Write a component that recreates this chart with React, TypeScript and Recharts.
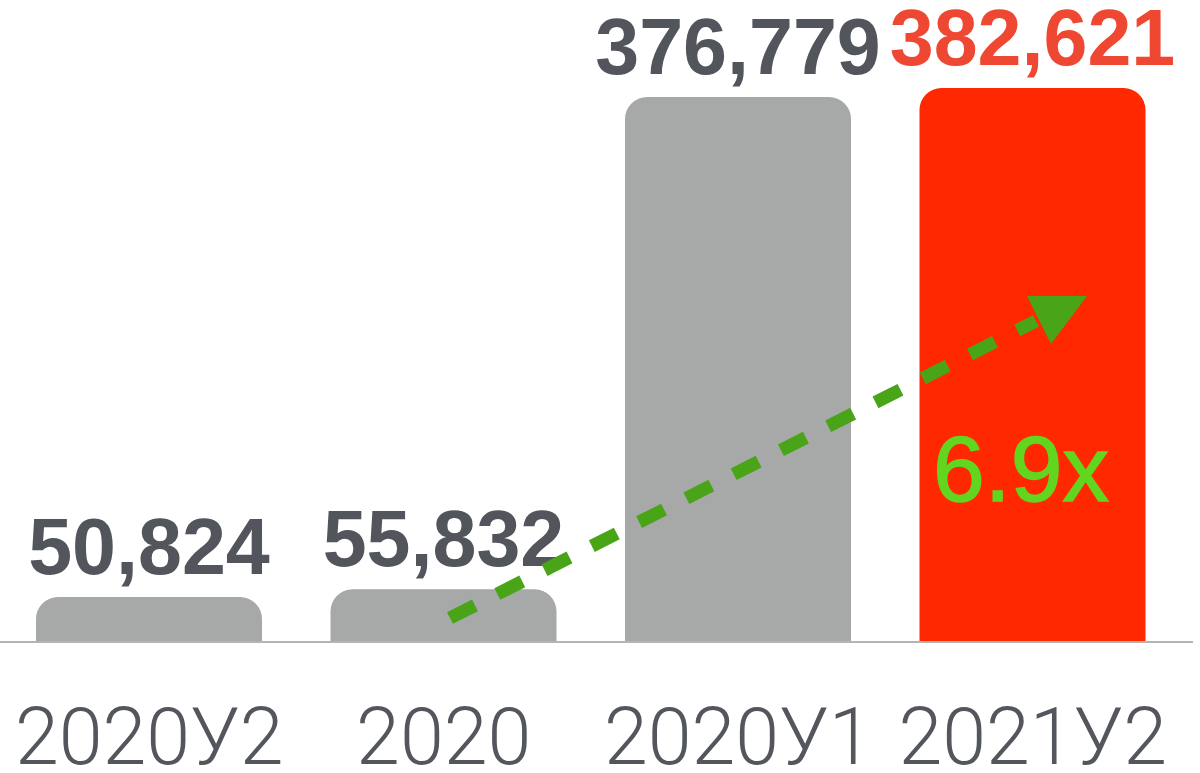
import { BarChart, Bar, XAxis, YAxis, Cell, LabelList } from "recharts"

const categories = ["2020У2", "2020", "2020У1", "2021У2"]
const values = [50824, 55832, 376779, 382621]
const barColors = ["#a6a9a8", "#a6a9a8", "#a6a9a8", "#ff2800"]
const labelColors = ["#52565c", "#52565c", "#52565c", "#ee4832"]
const growthLabel = "6.9x"

const data = categories.map((name, i) => ({ name, value: values[i] }))

const ValueLabel = (props: any) => {
  const { x, y, width, value, index } = props
  return (
    <text
      x={x + width / 2}
      y={y - 23}
      textAnchor="middle"
      fill={labelColors[index]}
      fontFamily="'Liberation Sans', Arial, sans-serif"
      fontWeight={700}
      fontSize={79}
    >
      {Number(value).toLocaleString("en-US")}
    </text>
  )
}

const CategoryTick = (props: any) => {
  const { x, y, payload } = props
  return (
    <text
      x={x}
      y={y}
      dy={122}
      textAnchor="middle"
      fill="#53575d"
      fontFamily="Roboto, 'Liberation Sans', sans-serif"
      fontWeight={300}
      fontSize={79}
    >
      {payload.value}
    </text>
  )
}

export default function App() {
  return (
    <div
      style={{
        position: "absolute",
        left: 0,
        top: 0,
        width: 1200,
        height: 773,
        background: "#ffffff",
      }}
    >
      <BarChart
        width={1200}
        height={773}
        data={data}
        margin={{ top: 88, right: 7, left: 0, bottom: 31 }}
      >
        <XAxis
          dataKey="name"
          height={100}
          padding={{ left: 2, right: 13 }}
          tickLine={false}
          tickSize={0}
          tickMargin={0}
          axisLine={{ stroke: "#b4b4b4", strokeWidth: 2 }}
          tick={<CategoryTick />}
          interval={0}
        />
        <YAxis hide domain={[21490, 382621]} allowDataOverflow />
        <Bar
          dataKey="value"
          barSize={226}
          radius={[22, 22, 0, 0]}
          isAnimationActive={false}
        >
          {data.map((d, i) => (
            <Cell key={d.name} fill={barColors[i]} />
          ))}
          <LabelList dataKey="value" content={<ValueLabel />} />
        </Bar>
      </BarChart>
      <svg
        width={1200}
        height={773}
        style={{ position: "absolute", left: 0, top: 0, pointerEvents: "none" }}
      >
        {/* growth arrow + multiplier */}
        <line
          x1={450}
          y1={618}
          x2={1036}
          y2={321}
          stroke="#4aa418"
          strokeWidth={13}
          strokeDasharray="28 25"
        />
        <polygon points="1027,296 1087,296 1051,344" fill="#4aa418" />
        <text
          x={1021}
          y={501}
          textAnchor="middle"
          fill="#62d61f"
          stroke="#62d61f"
          strokeWidth={1.5}
          fontFamily="'Liberation Sans', Arial, sans-serif"
          fontSize={93}
        >
          {growthLabel}
        </text>
      </svg>
    </div>
  )
}
